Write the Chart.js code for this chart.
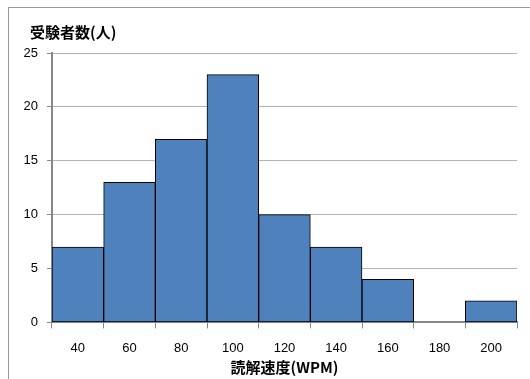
<!DOCTYPE html>
<html><head><meta charset="utf-8">
<script src="https://cdn.jsdelivr.net/npm/chart.js@4"></script>
<style>
html,body{margin:0;padding:0;background:#fff;overflow:hidden;}
#wrap{position:relative;width:530px;height:379px;}
#frame{position:absolute;left:8px;top:7px;width:540px;height:400px;border-left:1px solid #9a9a9a;border-top:1px solid #9a9a9a;}
canvas{position:absolute;left:0;top:0;}
#ytitle{position:absolute;left:30px;top:23px;line-height:18px;font-family:'Noto Sans CJK JP';font-weight:bold;font-size:15px;color:#000;white-space:nowrap;}
</style></head>
<body><div id="wrap"><div id="frame"></div><canvas id="c" width="530" height="379"></canvas><div id="ytitle"></div></div>
<script>
const categories = ['40','60','80','100','120','140','160','180','200'];
const counts = [7, 13, 17, 23, 10, 7, 4, 0, 2];
const yTitle = '受験者数(人)';
const xTitle = '読解速度(WPM)';
document.getElementById('ytitle').textContent = yTitle;

new Chart(document.getElementById('c'), {
  type: 'bar',
  data: { labels: categories, datasets: [{ data: counts, backgroundColor: '#4F81BD', borderColor: '#000', borderWidth: 1, borderSkipped: false, barPercentage: 1, categoryPercentage: 1 }] },
  options: {
    responsive: false, devicePixelRatio: 1, animation: false,
    layout: { padding: { left: 18, right: 13, top: 53, bottom: 3 } },
    plugins: { legend: { display: false }, tooltip: { enabled: false } },
    scales: {
      x: {
        offset: true,
        grid: { offset: true, drawOnChartArea: false, drawTicks: true, tickLength: 6, tickColor: '#878787' },
        border: { color: '#878787', width: 2 },
        ticks: { color: '#000', padding: 12, font: { family: "'Liberation Sans'", size: 13 } },
        title: { display: true, text: xTitle, color: '#000', padding: { top: -10, bottom: 0 },
          font: { family: "'Noto Sans CJK JP'", size: 15, weight: 'bold' } }
      },
      y: {
        min: 0, max: 25,
        afterFit: (s) => { s.width = 34; },
        grid: { color: '#B3B3B3', lineWidth: 1, tickLength: 5, tickColor: '#878787' },
        border: { color: '#878787', width: 2 },
        ticks: { stepSize: 5, color: '#000', padding: 9, font: { family: "'Liberation Sans'", size: 13 } }
      }
    }
  }
});
</script></body></html>
